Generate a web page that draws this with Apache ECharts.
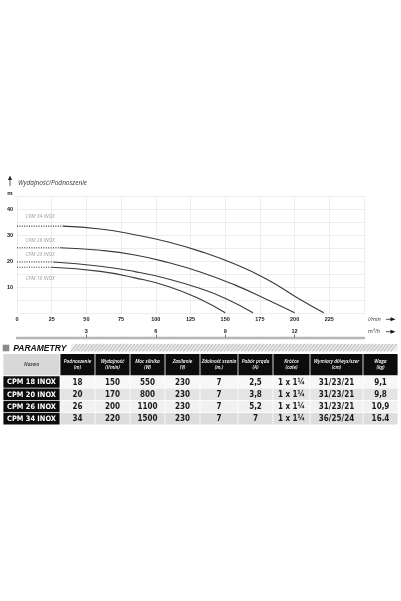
<!DOCTYPE html>
<html>
<head>
<meta charset="utf-8">
<script src="https://cdn.jsdelivr.net/npm/echarts@6/dist/echarts.min.js"></script>
<style>
  html, body { margin: 0; padding: 0; background: #fff; }
  #chart { width: 401px; height: 601px; }
</style>
</head>
<body>
<div id="chart"></div>
<script>
// curve data: flow in l/min, head in m
const models = ['CPM 18 INOX', 'CPM 20 INOX', 'CPM 26 INOX', 'CPM 34 INOX'];
const flow18 = [25, 60, 85, 109, 132, 150];
const head18 = [17.8, 16.2, 13.7, 10.4, 5.5, 0.3];
const flow20 = [26, 60, 85, 109, 132, 151, 170];
const head20 = [19.8, 18.2, 16.1, 13.3, 9.6, 5.6, 0.3];
const flow26 = [31, 60, 85, 109, 132, 156, 180, 200];
const head26 = [25.3, 24.3, 22.5, 19.6, 16.0, 11.2, 5.4, 0.3];
const flow34 = [33, 60, 85, 109, 132, 156, 180, 204, 221];
const head34 = [33.6, 32.5, 30.3, 27.5, 23.9, 19.2, 13.2, 5.4, 0.3];

const flowTicks = [0, 25, 50, 75, 100, 125, 150, 175, 200, 225];
const headTicks = [10, 20, 30, 40];
const m3hTicks = [3, 6, 9, 12];

const tableHead = ['Nazwa', 'Podnoszenie\n(m)', 'Wydajność\n(l/min)', 'Moc silnika\n(W)', 'Zasilanie\n(V)',
  'Zdolność ssania\n(m.)', 'Pobór prądu\n(A)', 'Króćce\n(cale)', 'Wymiary dł/wys/szer\n(cm)', 'Waga\n(kg)'];
const row18 = ['18', '150', '550', '230', '7', '2,5', '1 x 1¼', '31/23/21', '9,1'];
const row20 = ['20', '170', '800', '230', '7', '3,8', '1 x 1¼', '31/23/21', '9,8'];
const row26 = ['26', '200', '1100', '230', '7', '5,2', '1 x 1¼', '31/23/21', '10,9'];
const row34 = ['34', '220', '1500', '230', '7', '7', '1 x 1¼', '36/25/24', '16.4'];

const curveFlows = [flow18, flow20, flow26, flow34];
const curveHeads = [head18, head20, head26, head34];
const tableRows = [row18, row20, row26, row34];

// label offsets (px) for the curve names
const nameDy = [11, -7.7, -7.3, -9.4];

var myChart = echarts.init(document.getElementById('chart'), null, { renderer: 'canvas' });

const tickFont = { fontSize: 5.5, fontWeight: 'bold', color: '#1a1a1a', fontFamily: 'Liberation Sans' };

var series = [];
models.forEach(function (name, i) {
  const f = curveFlows[i], h = curveHeads[i];
  series.push({
    type: 'line',
    data: [[0, h[0]], [f[0], h[0]]],
    symbol: 'none',
    silent: true,
    lineStyle: { color: '#333', width: 1.1, type: [1, 1.4] },
    markPoint: {
      symbol: 'circle',
      symbolSize: 1,
      itemStyle: { color: 'rgba(0,0,0,0)' },
      data: [{
        coord: [0, h[0]],
        label: {
          show: true, formatter: name, position: 'right', distance: 0,
          offset: [8, nameDy[i]], fontSize: 5, fontStyle: 'italic',
          color: '#9c9c9c', fontFamily: 'Open Sans'
        }
      }]
    }
  });
  series.push({
    type: 'line',
    data: f.map(function (x, k) { return [x, h[k]]; }),
    smooth: 0.5,
    symbol: 'none',
    silent: true,
    lineStyle: { color: '#3a3a3a', width: 1.1 }
  });
});

// table + decorations
var graphics = [];
// y axis title with arrow
graphics.push({ type: 'line', shape: { x1: 10, y1: 186, x2: 10, y2: 179 }, style: { stroke: '#333', lineWidth: 0.8 } });
graphics.push({ type: 'polygon', shape: { points: [[8, 180], [12, 180], [10, 175.5]] }, style: { fill: '#222' } });
graphics.push({ type: 'text', x: 18, y: 182.7, style: { text: 'Wydajność/Podnoszenie', fontSize: 6.5, fontStyle: 'italic', fill: '#333', fontFamily: 'Open Sans', verticalAlign: 'middle' } });
graphics.push({ type: 'text', x: 10, y: 193, style: { text: 'm', fontSize: 6, fontWeight: 'bold', fill: '#222', fontFamily: 'Liberation Sans', align: 'center', verticalAlign: 'middle' } });
// unit names with arrows
[['l/min', 319.3], ['m³/h', 331.7]].forEach(function (u) {
  graphics.push({ type: 'text', x: 368, y: u[1], style: { text: u[0], fontSize: 5.5, fontStyle: 'italic', fill: '#333', fontFamily: 'Open Sans', verticalAlign: 'middle' } });
  graphics.push({ type: 'line', shape: { x1: 386, y1: u[1], x2: 391, y2: u[1] }, style: { stroke: '#222', lineWidth: 0.8 } });
  graphics.push({ type: 'polygon', shape: { points: [[390.5, u[1] - 2], [390.5, u[1] + 2], [395.5, u[1]]] }, style: { fill: '#111' } });
});
// PARAMETRY header
graphics.push({ type: 'rect', shape: { x: 2.7, y: 344.7, width: 6.6, height: 6.6 }, style: { fill: '#8a8a8a' } });
graphics.push({ type: 'text', x: 13.3, y: 348.2, style: { text: 'PARAMETRY', fontSize: 8.5, fontWeight: 'bold', fontStyle: 'italic', fill: '#111', fontFamily: 'Liberation Sans', verticalAlign: 'middle' } });
graphics.push({ type: 'rect', shape: { x: 71, y: 344, width: 327, height: 7.3 }, style: { fill: '#efefef' } });
for (var sx = 71; sx + 6 <= 398; sx += 3.4) {
  graphics.push({ type: 'line', shape: { x1: sx, y1: 351.3, x2: sx + 6, y2: 344 }, style: { stroke: '#c6c6c6', lineWidth: 1.3 } });
}
// table
const cols = [3, 60, 95, 130, 165, 200, 238, 273, 310, 363, 398];
const headTop = 354, headH = 21.3, rowTop = 376.3, rowH = 12.25;
const rowFill = ['#f7f7f7', '#e4e4e4', '#f1f1f1', '#dddddd'];
const cellFont = 'Liberation Sans Narrow, DejaVu Sans Condensed, sans-serif';
tableHead.forEach(function (t, c) {
  const x0 = cols[c], w = cols[c + 1] - cols[c];
  graphics.push({ type: 'rect', shape: { x: x0 + 0.4, y: headTop, width: w - 0.8, height: headH }, style: { fill: c === 0 ? '#d8d8d8' : '#0c0c0c' } });
  graphics.push({ type: 'text', x: x0 + w / 2, y: headTop + headH / 2, style: {
    text: t, fontSize: 4.8, lineHeight: 6.2, fontWeight: 600, fontStyle: 'italic',
    fill: c === 0 ? '#333' : '#fff', fontFamily: 'Open Sans', align: 'center', verticalAlign: 'middle' } });
});
tableRows.forEach(function (row, r) {
  const y0 = rowTop + r * rowH;
  graphics.push({ type: 'rect', shape: { x: cols[0] + 0.4, y: y0, width: cols[1] - cols[0] - 0.8, height: rowH - 0.7 }, style: { fill: '#0c0c0c' } });
  graphics.push({ type: 'text', x: (cols[0] + cols[1]) / 2, y: y0 + rowH / 2, style: {
    text: models[r], fontSize: 7.4, fontWeight: 'bold', fill: '#fff', fontFamily: cellFont, align: 'center', verticalAlign: 'middle' } });
  row.forEach(function (v, c) {
    const x0 = cols[c + 1], w = cols[c + 2] - cols[c + 1];
    graphics.push({ type: 'rect', shape: { x: x0 + 0.4, y: y0, width: w - 0.8, height: rowH - 0.7 }, style: { fill: rowFill[r] } });
    graphics.push({ type: 'text', x: x0 + w / 2, y: y0 + rowH / 2, style: {
      text: v, fontSize: 8, fontWeight: 'bold', fill: '#1a1a1a', fontFamily: cellFont, align: 'center', verticalAlign: 'middle' } });
  });
});

var option = {
  animation: false,
  backgroundColor: '#fff',
  grid: { left: 17, right: 37, top: 196.5, bottom: 287.5 },
  xAxis: [
    {
      type: 'value', min: 0, max: 250, interval: 25,
      axisLine: { show: false }, axisTick: { show: false },
      splitLine: { show: true, lineStyle: { color: '#e3e3e3', width: 0.6 } },
      axisLabel: Object.assign({ customValues: flowTicks, margin: 3 }, tickFont)
    },
    {
      type: 'value', min: 0, max: 15, interval: 3, position: 'bottom', offset: 24,
      axisLine: { show: true, onZero: false, lineStyle: { color: '#b5b5b5', width: 2.4 } },
      axisTick: { show: true, inside: true, length: 3, customValues: m3hTicks, lineStyle: { color: '#555', width: 0.8 } },
      splitLine: { show: false },
      axisLabel: Object.assign({ inside: true, customValues: m3hTicks, margin: 3 }, tickFont)
    }
  ],
  yAxis: {
    type: 'value', min: 0, max: 45, interval: 5,
    axisLine: { show: false }, axisTick: { show: false },
    splitLine: { show: true, lineStyle: { color: '#e3e3e3', width: 0.6 } },
    axisLabel: Object.assign({ customValues: headTicks, margin: 4 }, tickFont)
  },
  graphic: graphics,
  series: series
};
option && myChart.setOption(option);
</script>
</body>
</html>
